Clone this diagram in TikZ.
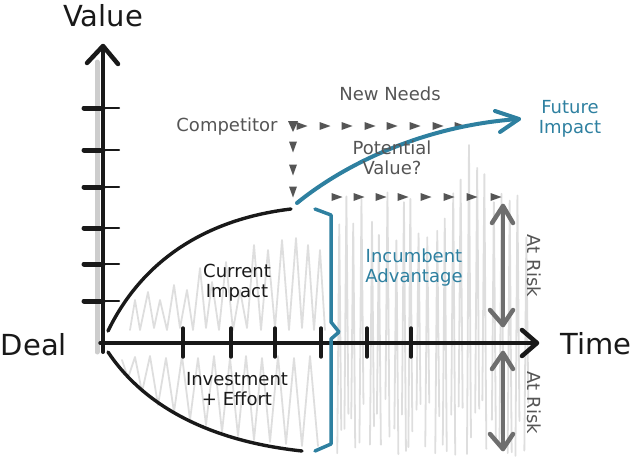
\documentclass[tikz,border=0pt]{standalone}
\usepackage{fontspec}
\setmainfont{DejaVu Sans}
\definecolor{bluec}{RGB}{46,128,160}
\definecolor{dgray}{RGB}{85,85,85}
\definecolor{rgray}{RGB}{110,110,110}
\definecolor{hgray}{RGB}{222,222,222}
\definecolor{sgray}{RGB}{205,205,205}
\definecolor{ink}{RGB}{25,25,25}
\tikzset{
  big/.style={font=\fontsize{29}{32}\selectfont, text=ink, inner sep=0pt},
  lbl/.style={font=\fontsize{18}{20}\selectfont, align=center, inner sep=0pt},
  hatch/.style={draw=hgray, line width=1.8},
  axisline/.style={draw=ink, line width=4},
  blueline/.style={draw=bluec, line width=4},
  riskline/.style={draw=rgray, line width=4.5},
  tri/.style={fill=dgray}
}
\begin{document}
\begin{tikzpicture}[x=1pt,y=-1pt,line cap=round,line join=round]
\useasboundingbox (0,0) rectangle (633,463);
% ---------- hatching ----------
\pgfmathsetseed{17}
\foreach \i in {0,...,23}{
  \pgfmathsetmacro{\xa}{336+\i*8.2+rand*1.5}
  \pgfmathsetmacro{\ta}{ifthenelse(\xa>452 && \xa<487, 140+rnd*40, 192+rnd*50)}
  \pgfmathsetmacro{\ba}{398+rnd*58}
  \pgfmathsetmacro{\bb}{398+rnd*58}
  \draw[hatch] (\xa,\ba) -- (\xa+2,\ta) -- (\xa+4,\bb);
}
\draw[hatch] (130,330) -- (135,300) -- (140,330) -- (148,292) -- (154,328) -- (160,300) -- (167,330) -- (174,285) -- (180,328) -- (187,290) -- (193,330) -- (200,268) -- (206,328) -- (212,282) -- (219,330) -- (226,262) -- (233,330) -- (240,290) -- (247,328) -- (254,245) -- (261,330) -- (268,250) -- (275,328) -- (282,240) -- (289,330) -- (296,238) -- (302,328) -- (308,245) -- (314,330) -- (320,250) -- (325,330);
\draw[hatch] (122,360) -- (128,378) -- (135,357) -- (142,392) -- (150,356) -- (158,405) -- (166,358) -- (174,412) -- (182,356) -- (190,420) -- (198,358) -- (206,425) -- (214,356) -- (222,432) -- (230,358) -- (238,436) -- (246,356) -- (254,440) -- (262,358) -- (270,442) -- (278,356) -- (286,444) -- (294,358) -- (302,446) -- (310,356) -- (318,446);
% axis shadow
\draw[draw=sgray, line width=5] (97,62) -- (97,352);
% ---------- axes ----------
\coordinate (ybot) at (103,352);
\coordinate (ytip) at (103,46);
\coordinate (xbeg) at (100,343);
\coordinate (xtip) at (537,343);
\draw[axisline] (ybot) -- (ytip);
\draw[axisline, line width=4.5] ([shift={(-16,17)}]ytip) -- (ytip) -- ([shift={(15,18)}]ytip);
\draw[axisline, line width=3.4] (xbeg) -- (xtip);
\draw[axisline, line width=4.5] ([shift={(-15,-13)}]xtip) -- (xtip) -- ([shift={(-15,13)}]xtip);
\foreach \y in {108,150,187,228,264,301}{
  \draw[draw=ink, line width=5] (84,\y) -- (103,\y);
  \draw[draw=ink, line width=2.4] (103,\y) -- (119,\y);
}
\foreach \x in {183,231,275,321,367,411}
  \draw[draw=ink, line width=3.4] (\x,328) -- (\x,357);
% ---------- curves ----------
\coordinate (c0) at (108,331);
\coordinate (c1) at (291,209);
\draw[draw=ink, line width=3.4] (c0) .. controls (140,265) and (200,220) .. (c1);
\coordinate (d0) at (108,352);
\coordinate (d1) at (302,451);
\draw[draw=ink, line width=3.4] (d0) .. controls (140,400) and (200,440) .. (d1);
% ---------- dashed triangles ----------
\fill[tri] (288,121) -- (298,121) -- (293,132) -- cycle;
\foreach \x in {302,325,347,370,392,415,438,460}
  \fill[tri] (\x-5.5,122) -- (\x+5.5,126) -- (\x-5.5,130) -- cycle;
\foreach \y in {147,170,192}
  \fill[tri] (289,\y-5.5) -- (297,\y-5.5) -- (293,\y+5.5) -- cycle;
\foreach \x in {337,359,381,403,426,449,472,496}
  \fill[tri] (\x-5.5,193) -- (\x+5.5,197) -- (\x-5.5,201) -- cycle;
% ---------- blue future arrow ----------
\coordinate (b0) at (297,203);
\coordinate (b1) at (519,119);
\draw[blueline] (b0) .. controls (350,160) and (430,125) .. (b1);
\draw[blueline] ([shift={(-24,-8)}]b1) -- (b1) -- ([shift={(-19,13)}]b1);
% ---------- bracket ----------
\draw[blueline, line width=3.5] (315,209) -- (331,215) -- (331,322) -- (339,332) -- (331,339) -- (331,444) -- (315,451);
% ---------- at risk arrows ----------
\coordinate (r1a) at (503,206);
\coordinate (r1b) at (503,325);
\draw[riskline] (r1a) -- (r1b);
\draw[riskline] ([shift={(-11,17)}]r1a) -- (r1a) -- ([shift={(10,17)}]r1a);
\draw[riskline] ([shift={(-13,-15)}]r1b) -- (r1b) -- ([shift={(10,-15)}]r1b);
\coordinate (r2a) at (503,353);
\coordinate (r2b) at (503,449);
\draw[riskline] (r2a) -- (r2b);
\draw[riskline] ([shift={(-11,16)}]r2a) -- (r2a) -- ([shift={(10,16)}]r2a);
\draw[riskline] ([shift={(-13,-15)}]r2b) -- (r2b) -- ([shift={(10,-15)}]r2b);
% ---------- labels ----------
\node[big] (value) at (103,16) {Value};
\node[big] (deal) at (34,345) {Deal};
\node[big] (time) at (596,344) {Time};
\node[lbl, text=dgray] (comp) at (227,127) {Competitor};
\node[lbl, text=dgray] (needs) at (390,94) {New Needs};
\node[lbl, text=dgray] (pot) at (392,158) {Potential\\Value?};
\node[lbl, text=bluec] (fut) at (570,119) {Future\\Impact};
\node[lbl, text=ink] (cur) at (237,283) {Current\\Impact};
\node[lbl, text=ink] (inv) at (237,389) {Investment\\+ Effort};
\node[lbl, text=bluec] (inc) at (414,268) {Incumbent\\Advantage};
\node[lbl, text=dgray, rotate=-90] (risk1) at (534,266) {At Risk};
\node[lbl, text=dgray, rotate=-90] (risk2) at (534,403) {At Risk};
\end{tikzpicture}
\end{document}
